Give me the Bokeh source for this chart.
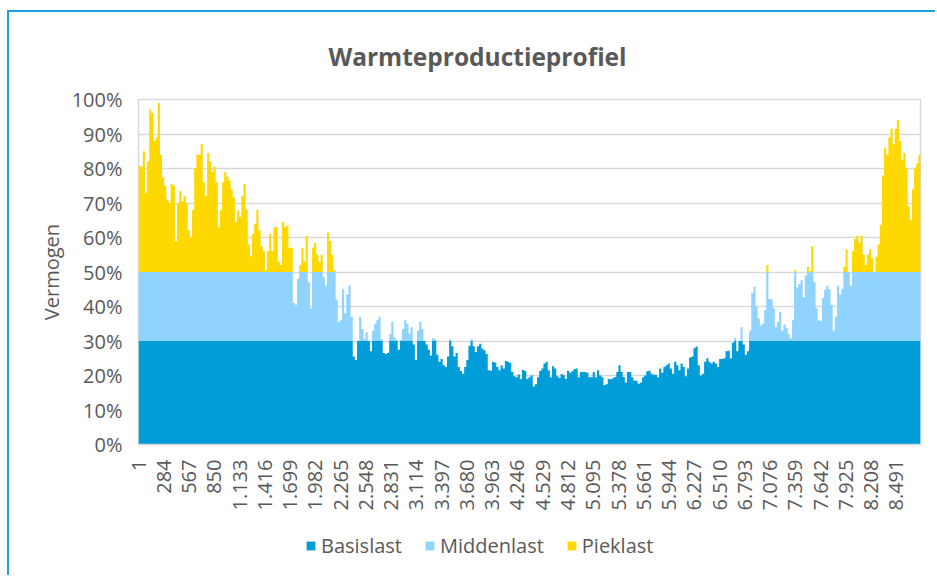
import numpy as np
from bokeh.plotting import figure
from bokeh.layouts import column
from bokeh.models import (Range1d, FixedTicker, Legend, LegendItem, NumeralTickFormatter)
from bokeh.embed import file_html
from bokeh.resources import INLINE

# ---- data (daily demand as % of capacity; 365 days = 8760 h) ----
total_pct = [
    80.8, 80.5, 85, 73, 82, 97, 96, 88, 89, 99,
    84, 77.5, 75, 71, 70, 75.5, 75, 59, 70, 73.5,
    70.5, 72, 70, 62, 60, 68, 80, 84, 84, 87,
    76, 72, 84.5, 82, 79, 80.5, 76, 63, 68, 76,
    79, 77.7, 76.5, 74, 71.5, 64.5, 67.8, 66, 72, 75.5,
    68, 58, 54.5, 61, 64, 68, 62, 57.5, 56,
    50.5, 56, 61, 56, 63, 63, 53, 52, 64.5, 63,
    63.5, 57, 57, 41, 40.5, 48, 52, 57, 53, 60.5,
    47, 39.5, 57, 58.5, 55, 53, 55, 48.5, 46, 61.5,
    59, 55, 50.5, 42, 35.5, 36, 45, 38, 43.5, 46,
    37, 25.5, 24.5, 30, 37, 33.5, 30.5, 32.5, 30, 27,
    33, 35, 36, 37, 30.5, 26.5, 26.2, 26.5, 32,
    35.5, 31, 30.3, 27.5, 30.3, 33.4, 36, 35, 32.2, 34,
    29, 24.5, 33, 35.5, 33.5, 30, 29, 27.5, 25.8, 30.8,
    30.5, 26, 24, 24.8, 23, 22.5, 25.5, 30.5, 28.5, 25.5,
    26.5, 22.5, 21.3, 20.5, 22.5, 24.5, 28.6, 30.5, 28.5, 26.8,
    28.5, 29.2, 27.8, 27.3, 26.2, 21.5, 21.4, 24, 23.8, 22.5,
    21.5, 23, 22, 24.2, 24, 23.7, 21, 19.8, 19.5, 20.3,
    19,
    21.6, 21.3, 19, 19.5, 20, 16.8, 17.5, 19.5, 21.3, 22,
    23.5, 24, 21.5, 19.5, 22.7, 22, 19.8, 19.3, 20.4, 20.1,
    19, 21.4, 20.8, 21.2, 21.8, 22, 19.5, 21, 21, 21,
    20.8, 19.5, 19.5, 21, 19.5, 21.5, 20, 19.5, 17.2, 17.5,
    19, 18.9, 19.2, 19.6, 21, 23, 21, 19.6, 18, 21,
    21, 19.5, 18.5, 18.5, 17.6, 18, 19.5, 20, 21.2, 21.4,
    20.5, 20.2, 20.2, 19.5, 22, 20.8, 22.5, 23, 23.5, 22,
    20.5, 24, 23, 21.5, 23.5, 22.5, 19.8, 22, 25.2, 25.5,
    27.9, 28.4, 23, 20, 20.5, 24, 25, 24, 23.5, 24,
    23.5, 22.5, 24.8, 24.8, 25, 27, 27.2, 25, 29.5, 30.8,
    27, 30, 34, 29, 26, 27, 33, 44, 45.7, 40,
    36.5, 34.5, 35, 39, 52, 42.2, 42, 39.5, 34,
    35.5, 38.5, 33, 34.8, 33.8, 32, 30.8, 36, 50.5, 45.5,
    46.5, 47.7, 42.7, 49, 51.5, 50.3, 57.5, 47, 39.5, 36,
    35.8, 42.5, 44.8, 46, 45, 40.5, 33, 37, 46, 43.5,
    45, 51.5, 56.5, 50, 46, 56, 59.6, 60.5, 58.5, 60.5,
    55, 52, 55, 56.5, 54, 50, 54.5, 58, 63.7, 78,
    86, 84, 89, 91.5, 87, 91.5, 94, 88, 82.5, 84.5,
    80, 69, 65, 74, 80, 81.5, 84,
]
series_names = ["Basislast", "Middenlast", "Pieklast"]
series_colors = ["#009dd9", "#8fd3fe", "#ffd800"]
basis_cap_pct = 30     # Basislast covers up to 30 %
midden_cap_pct = 50    # Middenlast covers 30-50 %, Pieklast above

x_tick_hours = [1, 284, 567, 850, 1133, 1416, 1699, 1982, 2265, 2548, 2831, 3114,
                3397, 3680, 3963, 4246, 4529, 4812, 5095, 5378, 5661, 5944, 6227,
                6510, 6793, 7076, 7359, 7642, 7925, 8208, 8491]
x_tick_labels = ["1", "284", "567", "850", "1.133", "1.416", "1.699", "1.982", "2.265",
                 "2.548", "2.831", "3.114", "3.397", "3.680", "3.963", "4.246", "4.529",
                 "4.812", "5.095", "5.378", "5.661", "5.944", "6.227", "6.510", "6.793",
                 "7.076", "7.359", "7.642", "7.925", "8.208", "8.491"]
y_ticks = [0.0, 0.1, 0.2, 0.3, 0.4, 0.5, 0.6, 0.7, 0.8, 0.9, 1.0]
hours_per_day = 24
n_hours = 8760

# ---- stacking ----
tot = np.array(total_pct, dtype=float) / 100.0
basis = np.minimum(tot, basis_cap_pct / 100.0)
midden_top = np.minimum(tot, midden_cap_pct / 100.0)
piek_top = tot

n = len(tot)
edges = np.arange(n + 1) * hours_per_day + 0.5
xs = np.repeat(edges, 2)[1:-1]
def st(a):
    return np.repeat(a, 2)

TXT = "#595959"
FONT = "Open Sans"
GRID = "#d9d9d9"
FS = "20px"
BORDER = "2px solid #1f9fdb"

p = figure(width=928, height=510, output_backend="svg", toolbar_location=None,
           x_range=Range1d(0.5, n_hours + 0.5), y_range=Range1d(0, 1),
           min_border_left=129, min_border_right=17, min_border_top=83, min_border_bottom=78)
p.styles = {"margin-left": "7px", "margin-top": "10px",
            "border-left": BORDER, "border-top": BORDER}
p.background_fill_color = "white"
p.border_fill_color = "white"
p.outline_line_color = GRID
p.outline_line_width = 1.5

p.varea(x=xs, y1=np.zeros(2 * n), y2=st(basis), fill_color=series_colors[0])
p.varea(x=xs, y1=st(basis), y2=st(midden_top), fill_color=series_colors[1])
p.varea(x=xs, y1=st(midden_top), y2=st(piek_top), fill_color=series_colors[2])

# title
p.title.text = "Warmteproductieprofiel"
p.title.text_font = FONT
p.title.text_font_size = "24.5px"
p.title.text_font_style = "bold"
p.title.text_color = TXT
p.title.align = "left"
p.title.vertical_align = "middle"
p.title.offset = 190
p.title.standoff = 52

# x axis
p.xaxis.ticker = FixedTicker(ticks=x_tick_hours)
p.xaxis.major_label_overrides = dict(zip(x_tick_hours, x_tick_labels))
p.xaxis.major_label_orientation = np.pi / 2
p.xaxis.major_tick_line_color = None
p.xaxis.minor_tick_line_color = None
p.xaxis.axis_line_color = GRID
p.xaxis.axis_line_width = 1.5
p.xaxis.major_label_text_font = FONT
p.xaxis.major_label_text_font_size = FS
p.xaxis.major_label_text_color = TXT
p.xaxis.major_label_standoff = 9

# y axis
p.yaxis.ticker = FixedTicker(ticks=y_ticks)
p.yaxis.formatter = NumeralTickFormatter(format="0%")
p.yaxis.major_tick_line_color = None
p.yaxis.minor_tick_line_color = None
p.yaxis.axis_line_color = None
p.yaxis.major_label_text_font = FONT
p.yaxis.major_label_text_font_size = FS
p.yaxis.major_label_text_color = TXT
p.yaxis.major_label_standoff = 10
p.yaxis.axis_label = "Vermogen"
p.yaxis.axis_label_text_font = FONT
p.yaxis.axis_label_text_font_size = FS
p.yaxis.axis_label_text_font_style = "normal"
p.yaxis.axis_label_text_color = TXT
p.yaxis.axis_label_standoff = 4

p.xgrid.visible = False
p.ygrid.ticker = FixedTicker(ticks=y_ticks)
p.ygrid.grid_line_color = GRID
p.ygrid.grid_line_width = 1.5

# ---- legend strip (separate figure so the legend is not clipped) ----
pl = figure(width=928, height=55, output_backend="svg", toolbar_location=None,
            x_axis_type=None, y_axis_type=None, min_border=0,
            x_range=Range1d(0, 1), y_range=Range1d(0, 1))
pl.styles = {"margin-left": "7px", "border-left": BORDER}
pl.outline_line_color = None
pl.background_fill_color = "white"
pl.border_fill_color = "white"
# legend swatches: renderers kept outside the visible range, only their legend glyphs show
leg_renderers = [pl.rect(x=[5], y=[5], width=1, height=1, fill_color=c, line_color=None)
                 for c in series_colors]
legend = Legend(items=[LegendItem(label=nm, renderers=[r])
                       for nm, r in zip(series_names, leg_renderers)],
                orientation="horizontal", location=(167, 16),
                border_line_color=None, background_fill_alpha=0,
                glyph_width=11, glyph_height=11, label_standoff=5, spacing=22,
                padding=0, margin=0, label_text_font=FONT, label_text_font_size=FS,
                label_text_color=TXT)
pl.add_layout(legend)

layout = column(p, pl, spacing=0)
open("out.html", "w").write(file_html(layout, INLINE))
